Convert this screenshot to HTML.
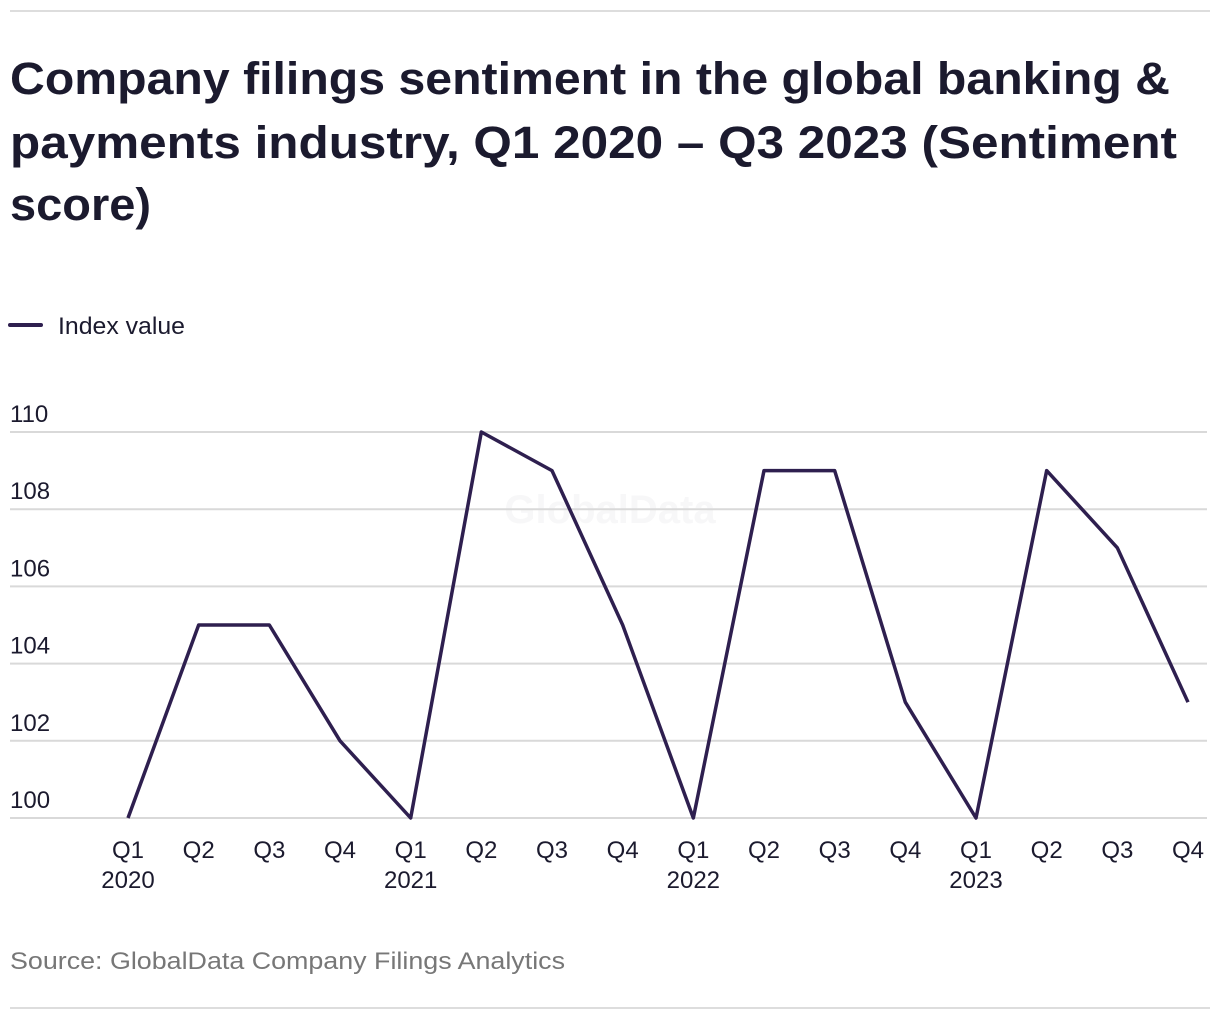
<!DOCTYPE html>
<html><head><meta charset="utf-8"><style>
html,body{margin:0;padding:0;background:#fff;}
svg{display:block;font-family:"Liberation Sans",sans-serif;}
</style></head><body>
<svg id="chart" width="1220" height="1020" viewBox="0 0 1220 1020">
<line x1="10" y1="11" x2="1210" y2="11" stroke="#dddddd" stroke-width="2"/>
<g fill="#1b1a2e" font-weight="bold" font-size="45">
<text x="10" y="94" textLength="1160" lengthAdjust="spacingAndGlyphs">Company filings sentiment in the global banking &amp;</text>
<text x="10" y="158" textLength="1167" lengthAdjust="spacingAndGlyphs">payments industry, Q1 2020 – Q3 2023 (Sentiment</text>
<text x="10" y="220" textLength="141" lengthAdjust="spacingAndGlyphs">score)</text>
</g>
<g>
<line x1="10" y1="325" x2="41" y2="325" stroke="#2e1f4f" stroke-width="4" stroke-linecap="round"/>
<text x="58" y="334" font-size="24" fill="#1b1a2e" textLength="127" lengthAdjust="spacingAndGlyphs">Index value</text>
</g>
<text x="610" y="523" font-size="40" font-weight="bold" fill="#f7f7f8" text-anchor="middle">GlobalData</text>
<g id="grid"></g>
<g id="xaxis"></g>
<path id="line" fill="none" stroke="#2e1f4f" stroke-width="3.5" stroke-linejoin="round"/>
<text x="10" y="969" font-size="24" fill="#777777" textLength="555" lengthAdjust="spacingAndGlyphs">Source: GlobalData Company Filings Analytics</text>
<line x1="10" y1="1008" x2="1210" y2="1008" stroke="#dddddd" stroke-width="2"/>
</svg>
<script>
const quarters = ["Q1","Q2","Q3","Q4","Q1","Q2","Q3","Q4","Q1","Q2","Q3","Q4","Q1","Q2","Q3","Q4"];
const years = ["2020","","","","2021","","","","2022","","","","2023","","",""];
const values = [100,105,105,102,100,110,109,105,100,109,109,103,100,109,107,103];
const yTicks = [100,102,104,106,108,110];

const NS = "http://www.w3.org/2000/svg";
const yMin = 100, yMax = 110, yBottom = 818, yTop = 432;
const xFirst = 128, xLast = 1188;
function yScale(v){ return yBottom - (v - yMin) / (yMax - yMin) * (yBottom - yTop); }
function xScale(i){ return xFirst + i * (xLast - xFirst) / (values.length - 1); }

const grid = document.getElementById('grid');
yTicks.forEach(t => {
  const l = document.createElementNS(NS, 'line');
  l.setAttribute('x1', 10); l.setAttribute('x2', 1207);
  l.setAttribute('y1', yScale(t)); l.setAttribute('y2', yScale(t));
  l.setAttribute('stroke', '#d9d9d9'); l.setAttribute('stroke-width', 2);
  
  
  grid.appendChild(l);
  const tx = document.createElementNS(NS, 'text');
  tx.setAttribute('x', 10); tx.setAttribute('y', yScale(t) - 10);
  tx.setAttribute('font-size', 24); tx.setAttribute('fill', '#1b1a2e');
  tx.textContent = t;
  
  
  grid.appendChild(tx);
});

const xaxis = document.getElementById('xaxis');
quarters.forEach((q, i) => {
  const tx = document.createElementNS(NS, 'text');
  tx.setAttribute('x', xScale(i)); tx.setAttribute('y', 858);
  tx.setAttribute('font-size', 24); tx.setAttribute('fill', '#1b1a2e');
  tx.setAttribute('text-anchor', 'middle');
  tx.textContent = q;
  
  
  xaxis.appendChild(tx);
  if (years[i]) {
    const ty = document.createElementNS(NS, 'text');
    ty.setAttribute('x', xScale(i)); ty.setAttribute('y', 888);
    ty.setAttribute('font-size', 24); ty.setAttribute('fill', '#1b1a2e');
    ty.setAttribute('text-anchor', 'middle');
    ty.textContent = years[i];
    
    
    xaxis.appendChild(ty);
  }
});

document.getElementById('line').setAttribute('d',
  values.map((v, i) => (i ? 'L' : 'M') + xScale(i) + ' ' + yScale(v)).join(' '));
</script>
</body></html>
